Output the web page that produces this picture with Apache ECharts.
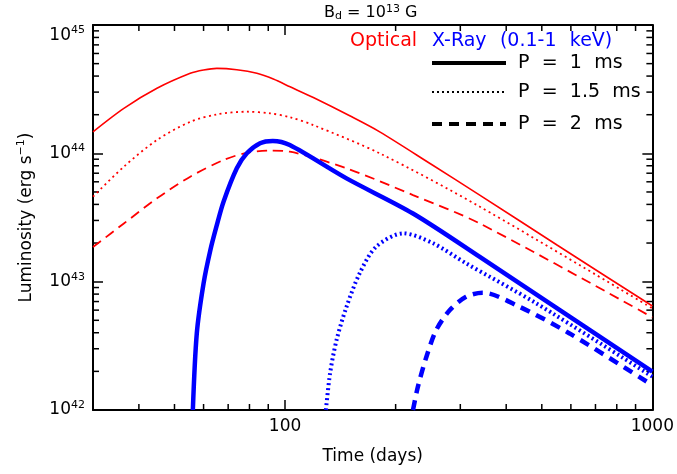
<!DOCTYPE html>
<html>
<head>
<meta charset="utf-8">
<script src="https://cdn.jsdelivr.net/npm/echarts@6/dist/echarts.min.js"></script>
<style>html,body{margin:0;padding:0;background:#fff}#c{width:677px;height:474px}</style>
</head>
<body>
<div id="c"></div>
<script>
// ---- data (time in days, luminosity in erg/s) ----
const optP1_t   = [30, 36.4, 44.8, 55.2, 60.0, 65.2, 73.9, 83.8, 92.9, 103.2, 119.4, 150, 181, 250, 338.8, 550, 1000];
const optP1_L   = [1.47e44, 2.24e44, 3.21e44, 4.20e44, 4.46e44, 4.59e44, 4.48e44, 4.20e44, 3.79e44, 3.30e44, 2.72e44, 1.96e44, 1.47e44, 8.22e43, 4.73e43, 1.93e43, 6.46e42];
const optP15_t  = [30, 36.4, 44.8, 55.2, 65.2, 78.7, 91.0, 103.2, 119.4, 181, 339, 1000];
const optP15_L  = [4.59e43, 7.87e43, 1.27e44, 1.76e44, 2.01e44, 2.11e44, 2.05e44, 1.91e44, 1.66e44, 1.0e44, 3.84e43, 6.19e42];
const optP2_t   = [30, 36.4, 44.8, 55.2, 68.0, 78.7, 91, 103, 147, 223, 339, 1000];
const optP2_L   = [1.86e43, 2.84e43, 4.46e43, 6.58e43, 8.87e43, 1.01e44, 1.05e44, 1.03e44, 7.64e43, 4.73e43, 2.84e43, 5.27e42];
const xrP1_t    = [56.1, 57.5, 60, 62.6, 65.2, 68.0, 73.9, 78.7, 85.5, 92.6, 103, 147, 223, 339, 1000];
const xrP1_L    = [1.0e42, 3.95e42, 9.71e42, 1.76e43, 2.76e43, 4.20e43, 7.64e43, 1.0e44, 1.20e44, 1.25e44, 1.16e44, 6.38e43, 3.40e43, 1.56e43, 1.99e42];
const xrP15_t   = [129.2, 132.6, 138.1, 147, 159.6, 177, 209.8, 253, 311, 483, 1000];
const xrP15_L   = [1.0e42, 1.93e42, 3.51e42, 6.37e42, 1.16e43, 1.87e43, 2.38e43, 1.99e43, 1.39e43, 6.78e42, 1.82e42];
const xrP2_t    = [223, 230, 242.6, 258, 281, 311, 345, 435, 595, 1000];
const xrP2_L    = [1.0e42, 1.52e42, 2.60e42, 4.20e42, 6.01e42, 7.62e42, 8.20e42, 6.37e42, 3.95e42, 1.56e42];

const xTickLabels = [100, 1000];
const yTickExps = [42, 43, 44, 45];
const periodLabels = ['P = 1 ms', 'P = 1.5 ms', 'P = 2 ms'];
const bandLabels = ['Optical', 'X-Ray (0.1-1 keV)'];
const titleText = 'B{sub|d} = 10{sup|13} G';

const zip = (t, L) => t.map((v, i) => [v, L[i]]);
const FONT = 'DejaVu Sans';
const RED = '#ff0000', BLUE = '#0000ff';

const chart = echarts.init(document.getElementById('c'), null, {renderer: 'canvas'});

function lineSeries(name, t, L, color, width, type) {
  return {
    name, type: 'line', data: zip(t, L), showSymbol: false, symbol: 'none',
    smooth: 0.3, clip: true,
    lineStyle: {color, width, type, cap: 'butt'}
  };
}

const axisLineStyle = {color: '#000', width: 2};
const option = {
  animation: false,
  backgroundColor: '#fff',
  grid: {left: 93, right: 23, top: 25, bottom: 64, containLabel: false},
  xAxis: [{
    type: 'log', logBase: 10, min: 30, max: 1000,
    name: 'Time (days)', nameLocation: 'middle', nameGap: 38,
    nameTextStyle: {fontFamily: FONT, fontSize: 17, color: '#000'},
    axisLine: {lineStyle: axisLineStyle},
    axisTick: {inside: true, length: 10, lineStyle: {color: '#000', width: 1.5}},
    axisLabel: {
      margin: 8, fontFamily: FONT, fontSize: 17, color: '#000',
      showMinLabel: true, showMaxLabel: true,
      formatter: v => xTickLabels.some(x => Math.abs(x - v) / x < 1e-6) ? String(Math.round(v)) : ''
    },
    splitLine: {show: false}
  }, {
    type: 'log', logBase: 10, min: 30, max: 1000, position: 'top',
    axisLine: {lineStyle: axisLineStyle},
    axisTick: {inside: true, length: 10, lineStyle: {color: '#000', width: 1.5}},
    axisLabel: {show: false}, splitLine: {show: false}
  }],
  yAxis: [{
    type: 'log', logBase: 10, min: 1e42, max: 1e45,
    name: 'Luminosity (erg s{sup|−1})', nameLocation: 'middle', nameGap: 56,
    nameTextStyle: {fontFamily: FONT, fontSize: 17, color: '#000',
      rich: {sup: {fontFamily: FONT, fontSize: 11, color: '#000', padding: [0, 0, 10, 0]}}},
    axisLine: {lineStyle: axisLineStyle},
    axisTick: {inside: true, length: 10, lineStyle: {color: '#000', width: 1.5}},
    axisLabel: {
      margin: 8, fontFamily: FONT, fontSize: 17, color: '#000',
      verticalAlignMaxLabel: 'top', verticalAlignMinLabel: 'bottom',
      formatter: v => {
        const e = Math.round(Math.log10(v));
        return yTickExps.indexOf(e) >= 0 ? '10{sup|' + e + '}' : '';
      },
      rich: {sup: {fontFamily: FONT, fontSize: 11, color: '#000', padding: [0, 0, 10, 0]}}
    },
    splitLine: {show: false}
  }, {
    type: 'log', logBase: 10, min: 1e42, max: 1e45, position: 'right',
    axisLine: {lineStyle: axisLineStyle},
    axisTick: {inside: true, length: 10, lineStyle: {color: '#000', width: 1.5}},
    axisLabel: {show: false}, splitLine: {show: false}
  }],
  series: [
    lineSeries('Optical P=1', optP1_t, optP1_L, RED, 1.6, 'solid'),
    lineSeries('Optical P=1.5', optP15_t, optP15_L, RED, 1.8, [2, 3.5]),
    lineSeries('Optical P=2', optP2_t, optP2_L, RED, 1.8, [10, 6]),
    lineSeries('X-Ray P=1', xrP1_t, xrP1_L, BLUE, 4.5, 'solid'),
    lineSeries('X-Ray P=1.5', xrP15_t, xrP15_L, BLUE, 4, [2, 3]),
    lineSeries('X-Ray P=2', xrP2_t, xrP2_L, BLUE, 4.5, [10, 7])
  ]
};
chart.setOption(option);

// ---- minor ticks, title, legend (graphic) ----
const g = [];
const x0 = chart.convertToPixel({xAxisIndex: 0}, 30);
const x1 = chart.convertToPixel({xAxisIndex: 0}, 1000);
const yB = chart.convertToPixel({yAxisIndex: 0}, 1e42);
const yT = chart.convertToPixel({yAxisIndex: 0}, 1e45);
const tickStyle = {stroke: '#000', lineWidth: 1.5};
for (let d = 10; d < 1000; d *= 10) {
  for (let k = 2; k <= 9; k++) {
    const v = k * d;
    if (v <= 30 || v >= 1000) continue;
    const px = chart.convertToPixel({xAxisIndex: 0}, v);
    g.push({type: 'line', shape: {x1: px, y1: yB, x2: px, y2: yB - 6}, style: tickStyle, silent: true});
    g.push({type: 'line', shape: {x1: px, y1: yT, x2: px, y2: yT + 6}, style: tickStyle, silent: true});
  }
}
for (let d = 1e42; d < 1e45; d *= 10) {
  for (let k = 2; k <= 9; k++) {
    const py = chart.convertToPixel({yAxisIndex: 0}, k * d);
    g.push({type: 'line', shape: {x1: x0, y1: py, x2: x0 + 6, y2: py}, style: tickStyle, silent: true});
    g.push({type: 'line', shape: {x1: x1, y1: py, x2: x1 - 6, y2: py}, style: tickStyle, silent: true});
  }
}
const midX = (x0 + x1) / 2 - 2;
g.push({type: 'text', x: midX, y: 13, style: {
  text: titleText, fontFamily: FONT, fontSize: 16, fill: '#000', align: 'center', verticalAlign: 'middle',
  rich: {
    sub: {fontFamily: FONT, fontSize: 11, fill: '#000', padding: [7, 0, 0, 0]},
    sup: {fontFamily: FONT, fontSize: 11, fill: '#000', padding: [0, 0, 8, 0]}
  }}});

const spaced = s => s.replace(/ /g, '{sp| }');
g.push({type: 'text', x: 350, y: 41, style: {text: bandLabels[0], fontFamily: FONT, fontSize: 19, fill: RED, verticalAlign: 'middle'}});
g.push({type: 'text', x: 432, y: 41, style: {text: spaced(bandLabels[1]), fontFamily: FONT, fontSize: 19, fill: BLUE, verticalAlign: 'middle',
  rich: {sp: {fontSize: 48, lineHeight: 22}}}});
const legRows = [
  {y: 63, w: 4, dash: null},
  {y: 92, w: 2, dash: [2, 3]},
  {y: 124, w: 4, dash: [10, 7]}
];
legRows.forEach((r, i) => {
  g.push({type: 'line', shape: {x1: 432, y1: r.y, x2: 506, y2: r.y},
    style: {stroke: '#000', lineWidth: r.w, lineDash: r.dash, lineCap: 'butt'}, silent: true});
  g.push({type: 'text', x: 518, y: r.y, style: {text: spaced(periodLabels[i]), fontFamily: FONT, fontSize: 19, fill: '#000', verticalAlign: 'middle',
    rich: {sp: {fontSize: 44, lineHeight: 22}}}});
});
chart.setOption({graphic: g});
</script>
</body>
</html>
